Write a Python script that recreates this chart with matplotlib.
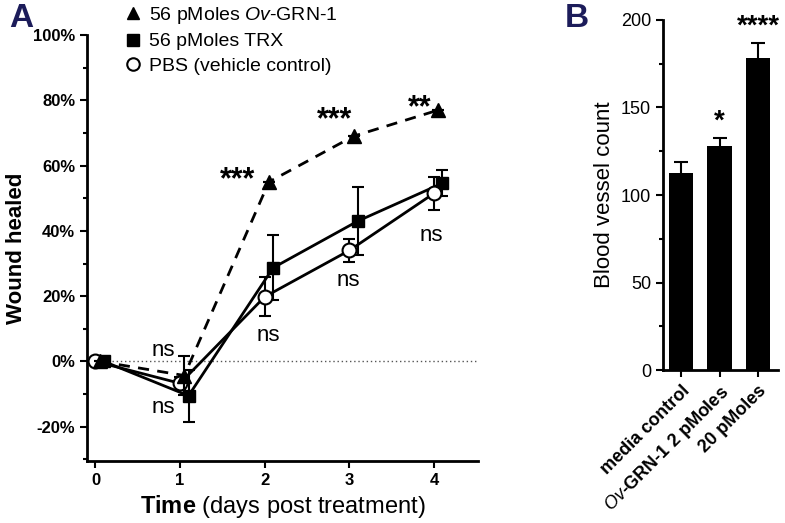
import matplotlib
matplotlib.use("Agg")
import matplotlib.pyplot as plt
from matplotlib.lines import Line2D
from matplotlib.ticker import MultipleLocator, FuncFormatter

plt.rcParams['font.family'] = ['Liberation Sans', 'DejaVu Sans']
plt.rcParams['mathtext.fontset'] = 'custom'
plt.rcParams['mathtext.rm'] = 'Liberation Sans'
plt.rcParams['mathtext.it'] = 'Liberation Sans:italic'
plt.rcParams['mathtext.bf'] = 'Liberation Sans:bold'

# Panel A data (% wound healed, mean and error)
days = [0, 1, 2, 3, 4]
grn_mean = [0, -4.3, 55.0, 69.0, 77.0]
grn_err = [0, 6.0, 0, 0, 0]
trx_mean = [0, -10.5, 28.7, 43.0, 54.6]
trx_err = [0, 8.0, 10.0, 10.5, 4.0]
pbs_mean = [0, -6.7, 19.8, 34.0, 51.5]
pbs_err = [0, 2.0, 6.0, 3.6, 5.0]

# Panel B data
groups = ['media control', r'$\it{Ov}$-GRN-1 2 pMoles', '20 pMoles']
vessels = [112.5, 128.0, 178.0]
vessels_err = [6.5, 4.5, 9.0]
vessel_sig = ['', '*', '****']

navy = '#1c1c5a'
fig = plt.figure(figsize=(7.85, 5.23), dpi=100)

# ---------------- Panel A ----------------
ax = fig.add_axes([0.1108, 0.1185, 0.498, 0.8145])
ax.axhline(0, color='#555555', lw=1, ls=(0, (1, 2)), zorder=1)

ebkw = dict(capsize=4, capthick=1.5, elinewidth=1.5, lw=2, color='black')
ax.errorbar([d + 0.1 for d in days], trx_mean, yerr=trx_err, marker='s', ms=9,
            mfc='black', mec='black', zorder=3, **ebkw)
ax.errorbar([d + 0.0 for d in days], pbs_mean, yerr=pbs_err, marker='o', ms=10,
            mfc='white', mec='black', mew=1.5, zorder=4, **ebkw)
ax.errorbar([d + 0.05 for d in days], grn_mean, yerr=grn_err, marker='^', ms=10,
            mfc='black', mec='black', ls=(0, (4, 3)), zorder=5, **ebkw)

ax.set_xlim(-0.1, 4.52)
ax.set_ylim(-30.5, 100)
ax.set_xticks(days)
ax.yaxis.set_major_locator(MultipleLocator(20))
ax.yaxis.set_minor_locator(MultipleLocator(10))
ax.yaxis.set_major_formatter(FuncFormatter(lambda v, p: '%d%%' % v))
for s in ['top', 'right']:
    ax.spines[s].set_visible(False)
for s in ['left', 'bottom']:
    ax.spines[s].set_linewidth(2)
ax.tick_params(width=1.5, length=5, labelsize=12)
ax.tick_params(which='minor', width=1.5, length=3)
for lab in ax.get_xticklabels() + ax.get_yticklabels():
    lab.set_fontweight('bold')
ax.set_ylabel('Wound healed', fontsize=16, fontweight='bold', labelpad=4)
ax.set_xlabel(r'$\bf{Time}$ (days post treatment)', fontsize=17, labelpad=4)

# significance labels
star_kw = dict(fontsize=22, fontweight='bold', ha='center', va='center')
ax.text(1.68, 55.5, '***', **star_kw)
ax.text(2.83, 74, '***', **star_kw)
ax.text(3.83, 77.5, '**', **star_kw)
for x, y in [(0.8, 3.4), (0.8, -14), (2.04, 8), (2.99, 24.7), (3.97, 38.7)]:
    ax.text(x, y, 'ns', fontsize=16, ha='center', va='center')

handles = [Line2D([], [], marker='^', ls='none', color='black', ms=9),
           Line2D([], [], marker='s', ls='none', color='black', ms=8),
           Line2D([], [], marker='o', ls='none', mfc='white', mec='black', mew=1.5, ms=9)]
labels = [r'56 pMoles $\it{Ov}$-GRN-1', '56 pMoles TRX', 'PBS (vehicle control)']
fig.legend(handles, labels, loc='upper left', bbox_to_anchor=(0.135, 1.024),
           frameon=False, fontsize=14, handletextpad=0.3, labelspacing=0.35,
           handlelength=1.0)

fig.text(0.012, 0.965, 'A', fontsize=24, fontweight='bold', color=navy, va='center')

# ---------------- Panel B ----------------
bx = fig.add_axes([0.8446, 0.2925, 0.1465, 0.6693])
xb = range(len(groups))
bx.bar(xb, vessels, width=0.64, color='black', yerr=vessels_err,
       error_kw=dict(capsize=5, capthick=1.5, elinewidth=1.5, ecolor='black'))
for i, s in enumerate(vessel_sig):
    bx.text(i, vessels[i] + vessels_err[i] + 2, s, fontsize=20, fontweight='bold',
            ha='center', va='bottom')
bx.set_xlim(-0.47, 2.52)
bx.set_ylim(0, 200)
bx.yaxis.set_major_locator(MultipleLocator(50))
bx.yaxis.set_minor_locator(MultipleLocator(25))
bx.set_xticks(list(xb))
bx.set_xticklabels(groups, rotation=45, ha='right', rotation_mode='anchor',
                   fontsize=13, fontweight='bold')
for s in ['top', 'right']:
    bx.spines[s].set_visible(False)
for s in ['left', 'bottom']:
    bx.spines[s].set_linewidth(2)
bx.tick_params(width=1.5, length=5, labelsize=13)
bx.tick_params(axis='x', labelsize=13)
bx.tick_params(which='minor', width=1.5, length=3)
bx.set_ylabel('Blood vessel count', fontsize=16, labelpad=4)

fig.text(0.72, 0.965, 'B', fontsize=24, fontweight='bold', color=navy, va='center')

fig.savefig('out.png', dpi=100)
